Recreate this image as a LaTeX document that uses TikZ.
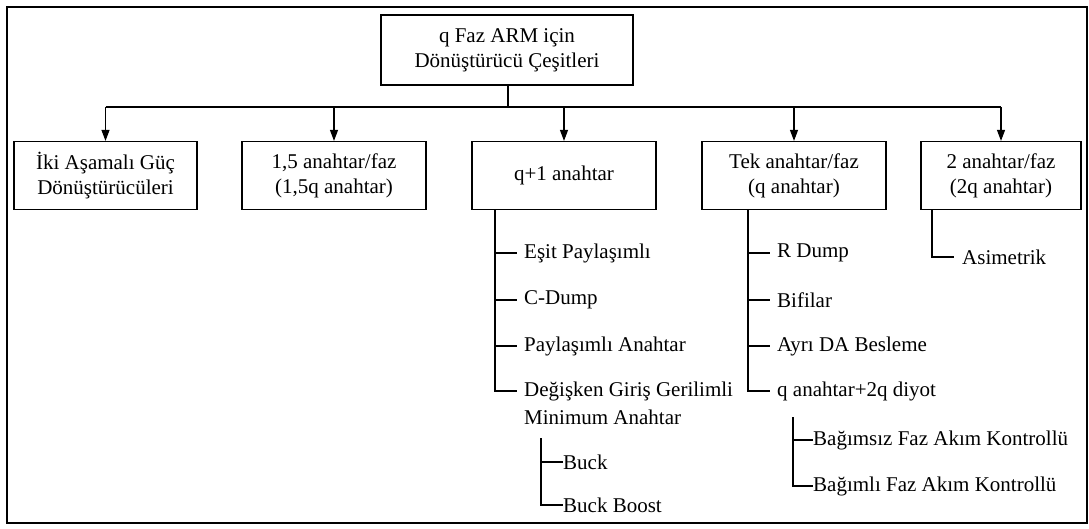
\documentclass[tikz,border=0pt]{standalone}
\usepackage{fontspec}
\setmainfont{Liberation Serif}
\usetikzlibrary{arrows.meta}
\begin{document}
\begin{tikzpicture}[x=1pt,y=-1pt,
  txt/.style={font=\fontsize{21}{25}\selectfont},
  box/.style={txt, draw, line width=1.2pt, align=center, inner sep=0pt},
  item/.style={txt, anchor=west, inner sep=0pt, align=left},
  link/.style={line width=1.1pt},
  arr/.style={link, -{Triangle[length=11pt,width=8pt]}}
]
\useasboundingbox (0,0) rectangle (1089,528);
% outer frame
\draw[line width=2.2pt] (1087,7) -- (7,7) -- (7,523) -- (1087,523) -- cycle;

% root
\node[box, minimum width=252pt, minimum height=70pt] (root) at (507,50)
  {q Faz ARM için\\Dönüştürücü Çeşitleri};

% first level
\node[box, minimum width=183pt, minimum height=68pt] (b1) at (105.5,175.5) {İki Aşamalı Güç\\Dönüştürücüleri};
\node[box, minimum width=184pt, minimum height=68pt] (b2) at (334,175.5) {1,5 anahtar/faz\\(1,5q anahtar)};
\node[box, minimum width=184pt, minimum height=68pt] (b3) at (564,175.5) {q+1 anahtar};
\node[box, minimum width=184pt, minimum height=68pt] (b4) at (794,175.5) {Tek anahtar/faz\\(q anahtar)};
\node[box, minimum width=160pt, minimum height=68pt] (b5) at (1001,175.5) {2 anahtar/faz\\(2q anahtar)};

% bus from root to first level
\coordinate (bus) at (508,107);
\draw[link] (root.south -| bus) -- (bus);
\draw[link] (b1.north |- bus) -- (b5.north |- bus);
\foreach \b in {b1,b2,b3,b4,b5}
  \draw[arr] (\b.north |- bus) -- (\b.north);

% q+1 anahtar branch
\node[item] (e1) at (524,253) {Eşit Paylaşımlı};
\node[item] (e2) at (524,300) {C-Dump};
\node[item] (e3) at (524,346) {Paylaşımlı Anahtar};
\node[item] (e4) at (524,391) {Değişken Giriş Gerilimli};
\node[item] (e5) at (524,417) {Minimum Anahtar};
\coordinate (t3) at (495,0);
\draw[link] (b3.south -| t3) -- (t3 |- e4.west) -- ++(22,0);
\foreach \e in {e1,e2,e3}
  \draw[link] (t3 |- \e.west) -- ++(22,0);

\node[item] (f1) at (563,462) {Buck};
\node[item] (f2) at (563,505) {Buck Boost};
\coordinate (t3b) at (541,438);
\draw[link] (t3b) -- (t3b |- f2.west) -- (f2.west);
\draw[link] (t3b |- f1.west) -- (f1.west);

% Tek anahtar/faz branch
\node[item] (g1) at (777,253) {R Dump};
\node[item] (g2) at (777,300) {Bifilar};
\node[item] (g3) at (777,346) {Ayrı DA Besleme};
\node[item] (g4) at (777,391) {q anahtar+2q diyot};
\coordinate (t4) at (748,0);
\draw[link] (b4.south -| t4) -- (t4 |- g4.west) -- ++(22,0);
\foreach \g in {g1,g2,g3}
  \draw[link] (t4 |- \g.west) -- ++(22,0);

\node[item] (h1) at (813,440) {Bağımsız Faz Akım Kontrollü};
\node[item] (h2) at (813,486) {Bağımlı Faz Akım Kontrollü};
\coordinate (t4b) at (793,417);
\draw[link] (t4b) -- (t4b |- h2.west) -- (h2.west);
\draw[link] (t4b |- h1.west) -- (h1.west);

% 2 anahtar/faz branch
\node[item] (k1) at (962,257) {Asimetrik};
\coordinate (t5) at (932,0);
\draw[link] (b5.south -| t5) -- (t5 |- k1.west) -- ++(22,0);
\end{tikzpicture}
\end{document}
